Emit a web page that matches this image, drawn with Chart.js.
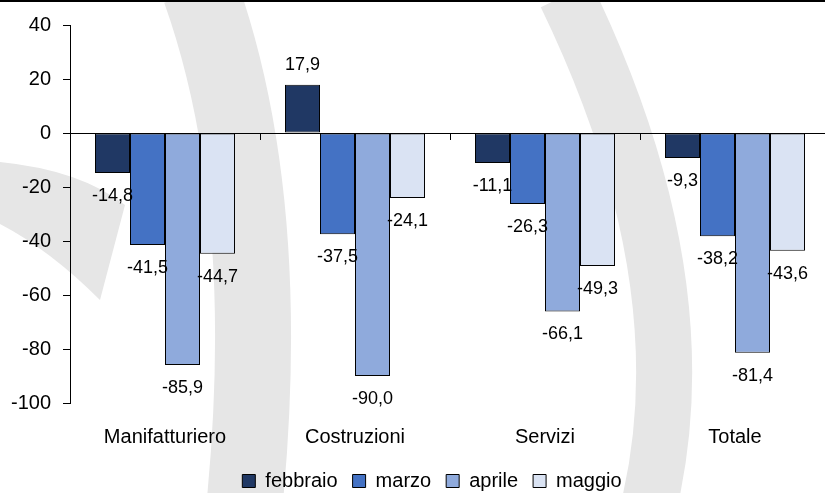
<!DOCTYPE html>
<html>
<head>
<meta charset="utf-8">
<script src="https://cdn.jsdelivr.net/npm/chart.js@4"></script>
<style>
  html, body { margin: 0; padding: 0; background: #fff; overflow: hidden; }
  #wrap { width: 830px; height: 493px; }
</style>
</head>
<body>
<div id="wrap"><canvas id="grafico"></canvas></div>
<script>
// settori e mesi
const settori = ["Manifatturiero", "Costruzioni", "Servizi", "Totale"];
const mesi = ["febbraio", "marzo", "aprile", "maggio"];
const febbraio = [-14.8, 17.9, -11.1, -9.3];
const marzo = [-41.5, -37.5, -26.3, -38.2];
const aprile = [-85.9, -90.0, -66.1, -81.4];
const maggio = [-44.7, -24.1, -49.3, -43.6];
const yTicks = [40, 20, 0, -20, -40, -60, -80, -100];

const colori = ["#203864", "#4472C4", "#8FAADC", "#DAE3F3"];
const FONT = "'Liberation Sans', Arial, sans-serif";

// filigrana grigia del logo sullo sfondo
const sfondo = {
    id: "sfondo",
    afterLayout(chart) {
        // legenda un po' spostata a destra come nell'originale
        chart.legend.left += 17;
        chart.legend.right += 17;
    },
    beforeDraw(chart) {
        const c = chart.ctx;
        c.save();
        c.fillStyle = "#fff";
        c.fillRect(0, 0, chart.width, chart.height);
        c.strokeStyle = "#e6e6e6";
        c.fillStyle = "#e6e6e6";
        c.lineCap = "butt";
        // arco a sinistra
        c.lineWidth = 76;
        c.beginPath();
        c.moveTo(200, -10);
        c.quadraticCurveTo(275, 200, 244, 510);
        c.stroke();
        // arco a destra
        c.lineWidth = 56;
        c.beginPath();
        c.moveTo(566, -5);
        c.quadraticCurveTo(704, 280, 648, 510);
        c.stroke();
        // coda a sinistra
        c.beginPath();
        c.moveTo(0, 162);
        c.quadraticCurveTo(80, 170, 125, 205);
        c.lineTo(100, 300);
        c.quadraticCurveTo(50, 250, 0, 224);
        c.closePath();
        c.fill();
        // bordo superiore
        c.fillStyle = "#000";
        c.fillRect(0, 0, chart.width, 2);
        c.restore();
    }
};

// etichette dei valori e tacche fra le categorie
const etichette = {
    id: "etichette",
    afterDatasetsDraw(chart) {
        const c = chart.ctx;
        const x = chart.scales.x;
        const y = chart.scales.y;
        const y0 = y.getPixelForValue(0);
        c.save();
        c.strokeStyle = "#000";
        c.lineWidth = 1;
        const passo = x.getPixelForValue(1) - x.getPixelForValue(0);
        for (let i = 1; i < settori.length; i++) {
            const px = Math.round(x.getPixelForValue(i) - passo / 2) + 0.5;
            c.beginPath();
            c.moveTo(px, y0);
            c.lineTo(px, y0 + 7);
            c.stroke();
        }
        c.font = "18px " + FONT;
        c.fillStyle = "#000";
        c.textAlign = "center";
        c.textBaseline = "middle";
        chart.data.datasets.forEach((ds, d) => {
            chart.getDatasetMeta(d).data.forEach((bar, i) => {
                const v = ds.data[i];
                const testo = v.toFixed(1).replace(".", ",");
                const py = v < 0 ? bar.y + 23 : bar.y - 20;
                c.fillText(testo, bar.x, py);
            });
        });
        c.restore();
    }
};

let ctx = document.getElementById("grafico");
let grafico = new Chart(ctx, {
    type: "bar",
    data: {
        labels: settori,
        datasets: [febbraio, marzo, aprile, maggio].map(function (serie, i) {
            return {
                label: mesi[i],
                data: serie,
                backgroundColor: colori[i],
                borderColor: "#000",
                borderWidth: 1,
                borderSkipped: false,
                barPercentage: 1,
                categoryPercentage: 0.737,
            };
        }),
    },
    options: {
        responsive: true,
        maintainAspectRatio: false,
        animation: false,
        layout: { padding: { top: 25, left: 0, right: 0, bottom: -8 } },
        scales: {
            x: {
                grid: { display: false },
                border: { display: false },
                ticks: { color: "#000", font: { family: FONT, size: 20 }, padding: 14 },
                afterFit: function (s) { s.height = 53; },
            },
            y: {
                min: -100,
                max: 40,
                afterBuildTicks: function (s) { s.ticks = yTicks.map(v => ({ value: v })); },
                afterFit: function (s) { s.width = 70; },
                grid: {
                    color: c => (c.tick && c.tick.value === 0 ? "#000" : "transparent"),
                    tickColor: "#000",
                    tickLength: 7,
                },
                border: { display: true, color: "#000", width: 1 },
                ticks: { color: "#000", font: { family: FONT, size: 20 }, padding: 12 },
            },
        },
        plugins: {
            legend: {
                position: "bottom",
                labels: {
                    color: "#000",
                    font: { family: FONT, size: 20 },
                    boxWidth: 13,
                    boxHeight: 13,
                    padding: 15,
                },
            },
            tooltip: { enabled: false },
        },
    },
    plugins: [sfondo, etichette],
});
</script>
</body>
</html>
